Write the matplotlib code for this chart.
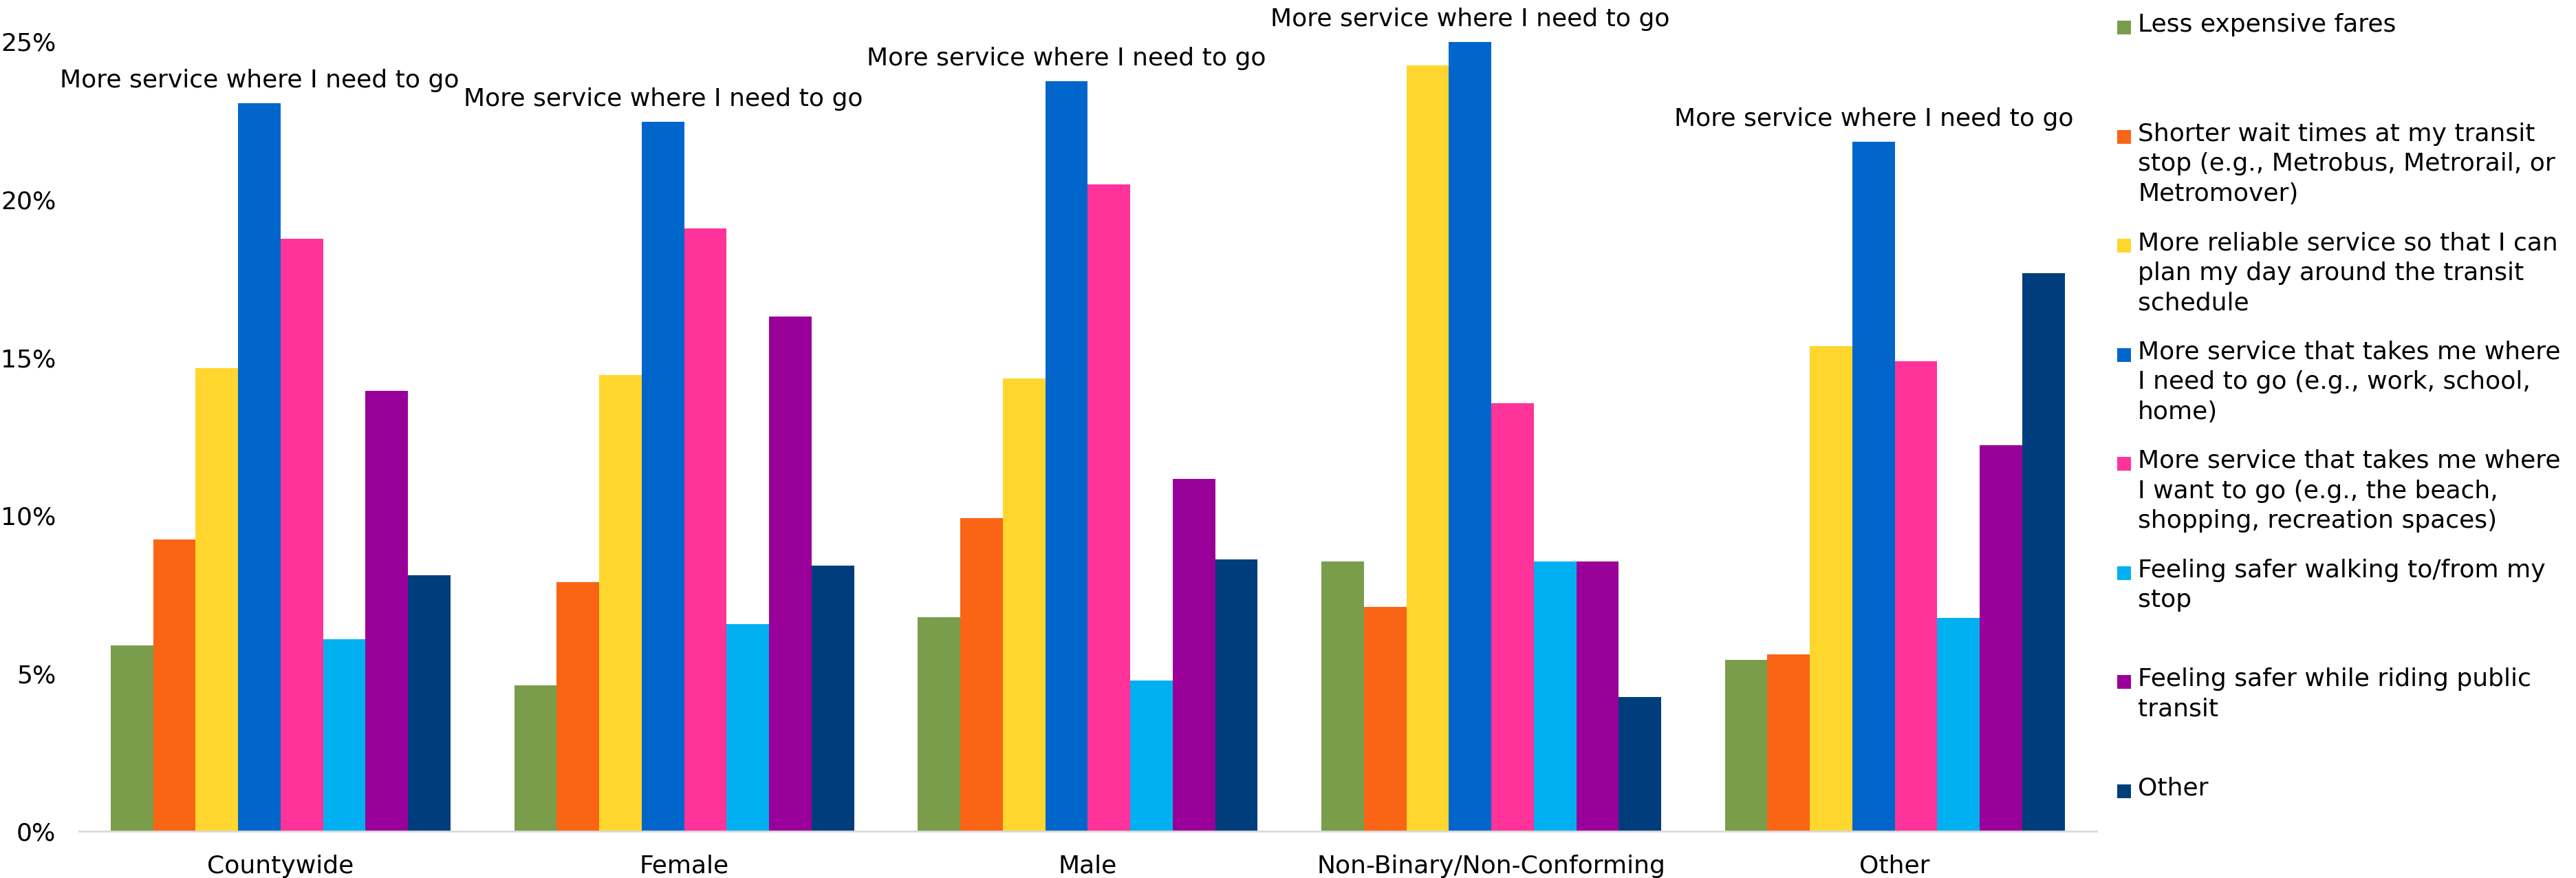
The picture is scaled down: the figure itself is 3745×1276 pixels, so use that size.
#!/usr/bin/env python3
"""
Transit improvement priorities by gender - grouped bar chart.
"""

import matplotlib
matplotlib.use('Agg')
import matplotlib.pyplot as plt
from matplotlib.patches import Rectangle
import numpy as np

plt.rcParams['font.family'] = ['DejaVu Sans']

# Categories on the x axis
groups = ['Countywide', 'Female', 'Male', 'Non-Binary/Non-Conforming', 'Other']

# Series labels (legend), wrapped as in the original
series_labels = [
    'Less expensive fares',
    'Shorter wait times at my transit\nstop (e.g., Metrobus, Metrorail, or\nMetromover)',
    'More reliable service so that I can\nplan my day around the transit\nschedule',
    'More service that takes me where\nI need to go (e.g., work, school,\nhome)',
    'More service that takes me where\nI want to go (e.g., the beach,\nshopping, recreation spaces)',
    'Feeling safer walking to/from my\nstop',
    'Feeling safer while riding public\ntransit',
    'Other',
]

# Percent values, one list per series (order follows groups)
less_expensive = [5.89, 4.63, 6.79, 8.55, 5.44]
shorter_wait = [9.25, 7.89, 9.91, 7.11, 5.60]
more_reliable = [14.66, 14.45, 14.33, 24.25, 15.37]
need_to_go = [23.05, 22.46, 23.74, 24.98, 21.83]
want_to_go = [18.76, 19.08, 20.48, 13.56, 14.88]
safer_walking = [6.08, 6.56, 4.79, 8.55, 6.77]
safer_riding = [13.95, 16.29, 11.15, 8.55, 12.23]
other = [8.12, 8.42, 8.62, 4.26, 17.68]

series_values = [less_expensive, shorter_wait, more_reliable, need_to_go,
                 want_to_go, safer_walking, safer_riding, other]

colors = ['#799D4A', '#FA6415', '#FFD62D', '#0066CC',
          '#FF3399', '#00B0F0', '#990099', '#003D7C']

annotation = 'More service where I need to go'
FS = 26


def main():
    fig = plt.figure(figsize=(37.45, 12.76), dpi=100)
    ax = fig.add_axes([0.0306, 0.0529, 0.7833, 0.8997])

    x = np.arange(len(groups))
    n = len(series_values)
    width = 0.842 / n

    for i, (vals, col) in enumerate(zip(series_values, colors)):
        offs = (i - (n - 1) / 2) * width
        ax.bar(x + offs, np.array(vals) / 100, width=width, color=col,
               linewidth=0)

    # label above the tallest "need to go" bar in each group
    offs_need = (3 - (n - 1) / 2) * width
    for xi, v in zip(x, need_to_go):
        ax.annotate(annotation, xy=(xi + offs_need, v / 100),
                    xytext=(0, 24), textcoords='offset points',
                    ha='center', va='center', fontsize=FS,
                    annotation_clip=False)

    ax.set_xlim(-0.5, len(groups) - 0.5)
    ax.set_ylim(0, 0.25)
    ax.set_yticks(np.arange(0, 0.26, 0.05))
    ax.set_yticklabels([f'{int(round(t * 100))}%' for t in np.arange(0, 0.26, 0.05)])
    ax.set_xticks(x)
    ax.set_xticklabels(groups)
    ax.tick_params(axis='both', length=0, labelsize=FS)
    ax.tick_params(axis='y', pad=24)
    ax.tick_params(axis='x', pad=24)

    for side in ['top', 'right', 'left']:
        ax.spines[side].set_visible(False)
    ax.spines['bottom'].set_color('#D9D9D9')
    ax.spines['bottom'].set_linewidth(2)

    # legend drawn by hand so each entry starts on a fixed step
    W, H = 3745, 1276
    top0 = 40
    step = 158.5
    for i, (lab, col) in enumerate(zip(series_labels, colors)):
        yc = top0 + i * step
        fig.patches.append(Rectangle((3078 / W, 1 - (yc + 10) / H),
                                     20 / W, 20 / H,
                                     transform=fig.transFigure,
                                     color=col, linewidth=0))
        fig.text(3108 / W, 1 - (yc - 21) / H, lab, fontsize=FS,
                 ha='left', va='top', linespacing=1.36)

    fig.savefig('out.png', dpi=100)


if __name__ == '__main__':
    main()
